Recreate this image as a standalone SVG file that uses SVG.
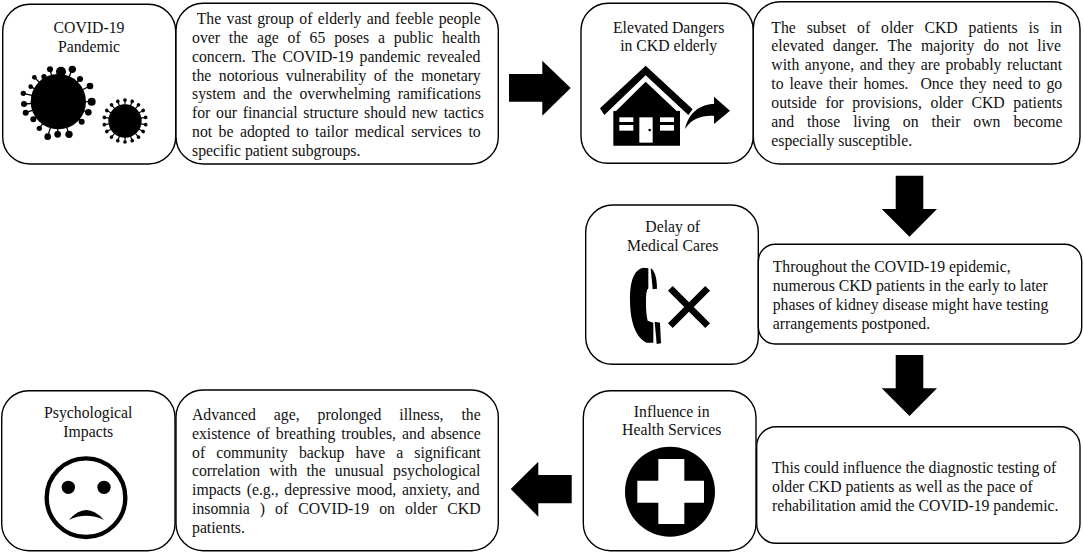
<svg xmlns="http://www.w3.org/2000/svg" xmlns:xlink="http://www.w3.org/1999/xlink" width="1084" height="553" viewBox="0 0 1084 553">
<style>
text{font-family:"Liberation Serif","Times New Roman",serif;font-size:15.75px;fill:#111;white-space:pre}
.c{text-anchor:middle}
.b{fill:#fff;stroke:#000;stroke-width:1.4}
.k{fill:#000}
.w{fill:#fff}
</style>
<defs>
<g id="sp"><line x1="0" y1="-40" x2="0" y2="-63" stroke="#000" stroke-width="3.5"/><circle cx="0" cy="-63" r="5.5" fill="#000"/></g>
</defs>
<rect width="1084" height="553" fill="#fff"/>
<g id="connectors" class="k">
<polygon points="509,74 542.3,74 542.3,60.7 570.7,88 542.3,115.7 542.3,101.7 509,101.7"/>
<polygon points="895.7,175.7 923.3,175.7 923.3,209 937,209 909.5,236.7 881.7,209 895.7,209"/>
<polygon points="895.7,355 923.3,355 923.3,388.3 937,388.3 909.5,416 881.7,388.3 895.7,388.3"/>
<polygon points="571.7,475 538.3,475 538.3,461.7 510.7,489 538.3,516.7 538.3,503.3 571.7,503.3"/>
</g>
<g id="node-pandemic">
<rect class="b" x="2.7" y="4.3" width="173" height="159.7" rx="27"/>
<text class="c" x="89" y="32.7">COVID-19</text>
<text class="c" x="89" y="51.7">Pandemic</text>
<g transform="scale(.33333)">
<g stroke="#000" stroke-width="4">
<path d="M175 305L150 208M175 305L183 215M175 305L217 208M175 305L240 237M175 305L270 258M175 305L275 305M175 305L265 337M175 305L245 365M175 305L207 403M175 305L173 403M175 305L143 410M175 305L118 385M175 305L100 358M175 305L77 338M175 305L72 312M175 305L70 280M175 305L92 260M175 305L103 232M175 305L132 230"/>
</g>
<g class="k">
<circle cx="175" cy="305" r="83"/>
<circle cx="150" cy="208" r="9"/><circle cx="183" cy="215" r="15"/><circle cx="217" cy="208" r="11"/><circle cx="240" cy="237" r="9"/><circle cx="270" cy="258" r="10"/><circle cx="275" cy="305" r="12"/><circle cx="265" cy="337" r="10"/><circle cx="245" cy="365" r="9"/><circle cx="207" cy="403" r="11"/><circle cx="173" cy="403" r="10"/><circle cx="143" cy="410" r="10"/><circle cx="118" cy="385" r="8"/><circle cx="100" cy="358" r="9"/><circle cx="77" cy="338" r="9"/><circle cx="72" cy="312" r="9"/><circle cx="70" cy="280" r="8"/><circle cx="92" cy="260" r="7"/><circle cx="103" cy="232" r="7"/><circle cx="132" cy="230" r="8"/>
<circle cx="375" cy="363" r="50"/>
</g>
<use href="#sp" transform="translate(375 363) rotate(0)"/><use href="#sp" transform="translate(375 363) rotate(20)"/><use href="#sp" transform="translate(375 363) rotate(40)"/><use href="#sp" transform="translate(375 363) rotate(60)"/><use href="#sp" transform="translate(375 363) rotate(80)"/><use href="#sp" transform="translate(375 363) rotate(100)"/><use href="#sp" transform="translate(375 363) rotate(120)"/><use href="#sp" transform="translate(375 363) rotate(140)"/><use href="#sp" transform="translate(375 363) rotate(160)"/><use href="#sp" transform="translate(375 363) rotate(180)"/><use href="#sp" transform="translate(375 363) rotate(200)"/><use href="#sp" transform="translate(375 363) rotate(220)"/><use href="#sp" transform="translate(375 363) rotate(240)"/><use href="#sp" transform="translate(375 363) rotate(260)"/><use href="#sp" transform="translate(375 363) rotate(280)"/><use href="#sp" transform="translate(375 363) rotate(300)"/><use href="#sp" transform="translate(375 363) rotate(320)"/><use href="#sp" transform="translate(375 363) rotate(340)"/>
</g>
</g>
<g id="node-pandemic-text">
<rect class="b" x="176" y="3.3" width="322.3" height="160.7" rx="27"/>
<text x="196.7" y="24" word-spacing="1.4">The vast group of elderly and feeble people</text>
<text x="192" y="42.9" word-spacing="4.9">over the age of 65 poses a public health</text>
<text x="192" y="61.7" word-spacing="2.3">concern. The COVID-19 pandemic revealed</text>
<text x="192" y="80.6" word-spacing="3.6">the notorious vulnerability of the monetary</text>
<text x="192" y="99.4" word-spacing="3.3">system and the overwhelming ramifications</text>
<text x="192" y="118.3" word-spacing="1.7">for our financial structure should new tactics</text>
<text x="192" y="137.1" word-spacing="2.56">not be adopted to tailor medical services to</text>
<text x="192" y="156">specific patient subgroups.</text>
</g>
<g id="node-dangers">
<rect class="b" x="581" y="3.3" width="172.3" height="160" rx="27"/>
<text class="c" x="668.7" y="32.7">Elevated Dangers</text>
<text class="c" x="668.7" y="51">in CKD elderly</text>
<g transform="translate(500 0) scale(.33333)">
<polygon class="k" points="437,197 578,328 565,345 437,226 313,345 300,325"/>
<polygon class="k" points="437,245 530,333 540,333 540,437 340,437 340,333 348,333"/>
<g class="w">
<rect x="358" y="352" width="42" height="14"/><rect x="358" y="375" width="42" height="17"/>
<rect x="480" y="352" width="42" height="14"/><rect x="480" y="375" width="42" height="17"/>
<rect x="418" y="352" width="40" height="76"/>
</g>
<circle class="k" cx="449" cy="390" r="4"/>
<path class="k" d="M555 387C565 340 600 312 642 312L642 290L690 332L642 372L642 348C610 345 575 355 555 387Z"/>
</g>
</g>
<g id="node-dangers-text">
<rect class="b" x="753.3" y="1.7" width="326.7" height="162.3" rx="27"/>
<text x="771.3" y="32.5" word-spacing="7">The subset of older CKD patients is in</text>
<text x="771.3" y="51.4" word-spacing="5.1">elevated danger. The majority do not live</text>
<text x="771.3" y="70.3" word-spacing="1.6">with anyone, and they are probably reluctant</text>
<text x="771.3" y="89.2" word-spacing="2">to leave their homes.  Once they need to go</text>
<text x="771.3" y="108.1" word-spacing="4.66">outside for provisions, older CKD patients</text>
<text x="771.3" y="127" word-spacing="9">and those living on their own become</text>
<text x="771.3" y="146">especially susceptible.</text>
</g>
<g id="node-delay">
<rect class="b" x="585.7" y="205" width="172.6" height="159.3" rx="27"/>
<text class="c" x="672.7" y="232.3">Delay of</text>
<text class="c" x="672.7" y="251">Medical Cares</text>
<g transform="translate(580 200) scale(.33333)">
<path class="k" d="M190 203L205 205L205 265Q197 270 198 310Q198 345 203 362L220 368L220 428L200 428C170 415 150 370 150 300C150 245 160 210 190 203Z"/>
<path class="k" d="M212 205Q230 215 231 266L218 268Z"/>
<path class="k" d="M224 365L240 368L243 430L230 432Z"/>
<path d="M271 265L383 377M383 265L271 377" stroke="#000" stroke-width="20" fill="none"/>
</g>
</g>
<g id="node-delay-text">
<rect class="b" x="758.3" y="244.3" width="323.4" height="99.7" rx="17"/>
<text x="772.7" y="271.7">Throughout the COVID-19 epidemic,</text>
<text x="772.7" y="290.7">numerous CKD patients in the early to later</text>
<text x="772.7" y="309.7">phases of kidney disease might have testing</text>
<text x="772.7" y="328.7">arrangements postponed.</text>
</g>
<g id="node-health">
<rect class="b" x="583.3" y="390.7" width="172.7" height="160" rx="27"/>
<text class="c" x="671.7" y="416.7">Influence in</text>
<text class="c" x="671.7" y="435">Health Services</text>
<g transform="translate(500 385) scale(.33333)">
<circle class="k" cx="510" cy="320" r="135"/>
<polygon class="w" points="475,222 553,222 553,287 612,287 612,353 553,353 553,417 475,417 475,353 412,353 412,287 475,287"/>
</g>
</g>
<g id="node-health-text">
<rect class="b" x="756.7" y="426.7" width="323.3" height="116.6" rx="19.5"/>
<text x="772" y="472.7">This could influence the diagnostic testing of</text>
<text x="772" y="491.7">older CKD patients as well as the pace of</text>
<text x="772" y="510.7">rehabilitation amid the COVID-19 pandemic.</text>
</g>
<g id="node-psych">
<rect class="b" x="1.7" y="390.7" width="173.3" height="160" rx="27"/>
<text class="c" x="88.3" y="418.3">Psychological</text>
<text class="c" x="88.3" y="436.7">Impacts</text>
<g transform="translate(0 385) scale(.33333)">
<circle cx="258" cy="338" r="118" fill="#fff" stroke="#000" stroke-width="13"/>
<circle class="k" cx="205" cy="307" r="20"/><circle class="k" cx="312" cy="307" r="20"/>
<path class="k" d="M207 405Q258 345 312 405Q258 380 207 405Z"/>
</g>
</g>
<g id="node-psych-text">
<rect class="b" x="176" y="390" width="322.3" height="160.7" rx="27"/>
<text x="192" y="419.7" word-spacing="14">Advanced age, prolonged illness, the</text>
<text x="192" y="438.6" word-spacing="2.1">existence of breathing troubles, and absence</text>
<text x="192" y="457.5" word-spacing="7.1">of community backup have a significant</text>
<text x="192" y="476.4" word-spacing="5.2">correlation with the unusual psychological</text>
<text x="192" y="495.3" word-spacing="1.74">impacts (e.g., depressive mood, anxiety, and</text>
<text x="192" y="514.3" word-spacing="6.1">insomnia ) of COVID-19 on older CKD</text>
<text x="192" y="533.3">patients.</text>
</g>
</svg>
